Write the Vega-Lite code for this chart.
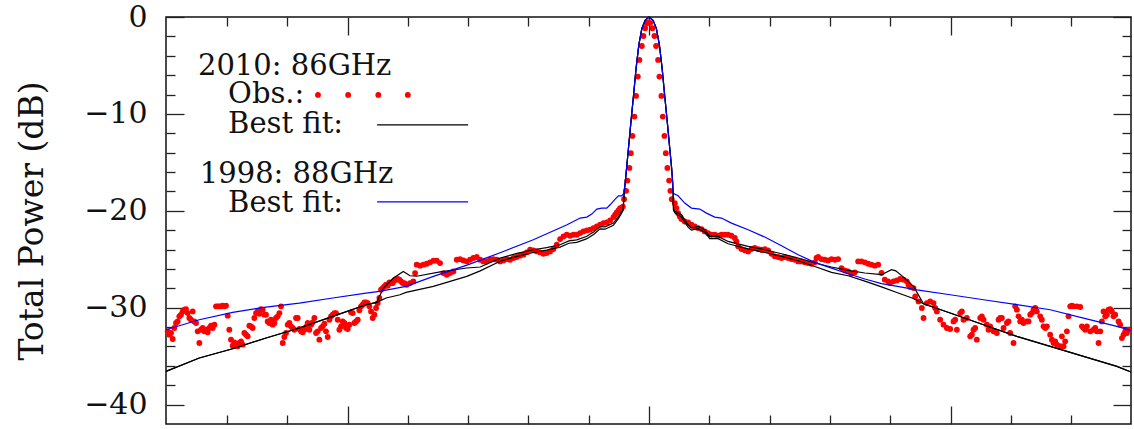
{
  "$schema": "https://vega.github.io/schema/vega-lite/v6.json",
  "width": 965,
  "height": 407,
  "autosize": {"type": "none"},
  "padding": {"left": 166, "top": 17, "right": 3, "bottom": 5},
  "background": "white",
  "config": {"view": {"stroke": "#111111", "strokeWidth": 1.5}, "font": "DejaVu Serif"},
  "datasets": {
    "obs": [
      {"a":-79.82,"p":-32.44},{"a":-79.55,"p":-32.78},{"a":-79.27,"p":-32.61},{"a":-78.99,"p":-33.23},{"a":-78.72,"p":-32.09},{"a":-78.44,"p":-31.58},{"a":-78.17,"p":-31.41},{"a":-77.89,"p":-30.89},{"a":-77.61,"p":-30.72},{"a":-77.34,"p":-30.38},{"a":-77.06,"p":-30.2},{"a":-76.78,"p":-30.14},{"a":-76.51,"p":-30.55},{"a":-76.23,"p":-31.06},{"a":-75.95,"p":-31.24},{"a":-75.68,"p":-30.38},{"a":-75.4,"p":-31.41},{"a":-75.12,"p":-31.58},{"a":-74.85,"p":-32.44},{"a":-74.57,"p":-33.64},{"a":-74.3,"p":-32.27},{"a":-74.02,"p":-32.09},{"a":-73.74,"p":-32.44},{"a":-73.47,"p":-32.27},{"a":-73.19,"p":-32.54},{"a":-72.91,"p":-32.09},{"a":-72.64,"p":-31.85},{"a":-72.36,"p":-32.09},{"a":-72.08,"p":-31.75},{"a":-71.81,"p":-29.86},{"a":-71.53,"p":-29.86},{"a":-71.26,"p":-29.86},{"a":-70.98,"p":-29.86},{"a":-70.7,"p":-29.79},{"a":-70.43,"p":-29.86},{"a":-70.15,"p":-29.79},{"a":-69.87,"p":-30.82},{"a":-69.6,"p":-32.27},{"a":-69.32,"p":-33.3},{"a":-69.04,"p":-33.92},{"a":-68.77,"p":-33.57},{"a":-68.49,"p":-33.81},{"a":-68.21,"p":-33.98},{"a":-67.94,"p":-33.64},{"a":-67.66,"p":-33.47},{"a":-67.39,"p":-33.81},{"a":-67.11,"p":-32.61},{"a":-66.83,"p":-32.78},{"a":-66.56,"p":-32.95},{"a":-66.28,"p":-31.85},{"a":-66.0,"p":-31.92},{"a":-65.73,"p":-32.09},{"a":-65.45,"p":-31.06},{"a":-65.17,"p":-30.55},{"a":-64.9,"p":-30.38},{"a":-64.62,"p":-30.62},{"a":-64.34,"p":-30.14},{"a":-64.07,"p":-30.2},{"a":-63.79,"p":-30.72},{"a":-63.52,"p":-30.72},{"a":-63.24,"p":-31.41},{"a":-62.96,"p":-31.58},{"a":-62.69,"p":-31.24},{"a":-62.41,"p":-31.75},{"a":-62.13,"p":-31.58},{"a":-61.86,"p":-31.06},{"a":-61.58,"p":-30.89},{"a":-61.3,"p":-30.55},{"a":-61.03,"p":-29.86},{"a":-60.75,"p":-33.64},{"a":-60.48,"p":-33.02},{"a":-60.2,"p":-32.61},{"a":-59.92,"p":-31.75},{"a":-59.65,"p":-31.58},{"a":-59.37,"p":-31.92},{"a":-59.09,"p":-32.09},{"a":-58.82,"p":-32.27},{"a":-58.54,"p":-31.06},{"a":-58.26,"p":-31.06},{"a":-57.99,"p":-32.2},{"a":-57.71,"p":-32.44},{"a":-57.44,"p":-32.54},{"a":-57.16,"p":-32.27},{"a":-56.88,"p":-31.99},{"a":-56.61,"p":-31.58},{"a":-56.33,"p":-32.27},{"a":-56.05,"p":-31.75},{"a":-55.78,"p":-31.51},{"a":-55.5,"p":-31.06},{"a":-55.22,"p":-32.61},{"a":-54.95,"p":-32.44},{"a":-54.67,"p":-33.3},{"a":-54.39,"p":-32.09},{"a":-54.12,"p":-31.92},{"a":-53.84,"p":-31.65},{"a":-53.57,"p":-32.44},{"a":-53.29,"p":-33.02},{"a":-53.01,"p":-31.24},{"a":-52.74,"p":-30.89},{"a":-52.46,"p":-30.72},{"a":-52.18,"p":-30.55},{"a":-51.91,"p":-30.55},{"a":-51.63,"p":-31.24},{"a":-51.35,"p":-32.27},{"a":-51.08,"p":-31.92},{"a":-50.8,"p":-31.41},{"a":-50.53,"p":-31.58},{"a":-50.25,"p":-32.09},{"a":-49.97,"p":-32.2},{"a":-49.7,"p":-31.75},{"a":-49.42,"p":-30.48},{"a":-49.14,"p":-30.55},{"a":-48.87,"p":-31.58},{"a":-48.59,"p":-31.41},{"a":-48.31,"p":-31.24},{"a":-48.04,"p":-30.27},{"a":-47.76,"p":-29.86},{"a":-47.49,"p":-29.69},{"a":-47.21,"p":-29.45},{"a":-46.93,"p":-29.45},{"a":-46.66,"p":-29.52},{"a":-46.38,"p":-29.86},{"a":-46.1,"p":-30.38},{"a":-45.83,"p":-31.06},{"a":-45.55,"p":-30.72},{"a":-45.27,"p":-30.03},{"a":-45.0,"p":-29.52},{"a":-44.72,"p":-29.0},{"a":-44.45,"p":-28.14},{"a":-44.17,"p":-27.97},{"a":-43.89,"p":-27.8},{"a":-43.62,"p":-27.63},{"a":-43.34,"p":-27.73},{"a":-43.06,"p":-27.39},{"a":-42.79,"p":-27.46},{"a":-42.51,"p":-27.46},{"a":-42.23,"p":-27.18},{"a":-41.96,"p":-27.11},{"a":-41.68,"p":-27.04},{"a":-41.4,"p":-27.11},{"a":-41.13,"p":-27.28},{"a":-40.85,"p":-27.46},{"a":-40.57,"p":-27.46},{"a":-40.18,"p":-27.63},{"a":-39.64,"p":-27.46},{"a":-39.09,"p":-27.29},{"a":-38.8,"p":-26.43},
      {"a":-38.53,"p":-25.56},{"a":-37.97,"p":-25.66},{"a":-37.42,"p":-25.56},{"a":-36.87,"p":-25.46},{"a":-36.32,"p":-25.32},{"a":-35.76,"p":-25.15},{"a":-35.21,"p":-25.15},{"a":-34.66,"p":-25.39},{"a":-34.1,"p":-26.43},{"a":-33.55,"p":-26.6},{"a":-33.0,"p":-26.43},{"a":-32.45,"p":-26.26},{"a":-31.89,"p":-25.05},{"a":-31.34,"p":-24.99},{"a":-30.79,"p":-25.12},{"a":-30.23,"p":-25.22},{"a":-29.68,"p":-25.05},{"a":-29.13,"p":-24.87},{"a":-28.58,"p":-24.77},{"a":-28.02,"p":-25.05},{"a":-27.47,"p":-25.22},{"a":-26.92,"p":-25.22},{"a":-26.36,"p":-25.05},{"a":-25.81,"p":-24.98},{"a":-25.26,"p":-25.05},{"a":-24.71,"p":-25.22},{"a":-24.15,"p":-25.12},{"a":-23.6,"p":-24.98},{"a":-23.05,"p":-25.05},{"a":-22.49,"p":-24.87},{"a":-21.94,"p":-24.77},{"a":-21.39,"p":-24.63},{"a":-20.84,"p":-24.53},{"a":-20.28,"p":-24.29},{"a":-19.73,"p":-24.02},{"a":-19.18,"p":-24.08},{"a":-18.62,"p":-24.19},{"a":-18.07,"p":-24.29},{"a":-17.52,"p":-24.43},{"a":-16.97,"p":-24.36},{"a":-16.41,"p":-24.19},{"a":-15.86,"p":-23.95},{"a":-15.31,"p":-23.5},{"a":-14.76,"p":-22.92},{"a":-14.2,"p":-22.64},{"a":-13.65,"p":-22.47},{"a":-13.1,"p":-22.57},{"a":-12.54,"p":-22.47},{"a":-11.99,"p":-22.47},{"a":-11.44,"p":-22.3},{"a":-10.89,"p":-22.13},{"a":-10.33,"p":-22.02},{"a":-9.78,"p":-21.95},{"a":-9.23,"p":-21.78},{"a":-8.67,"p":-21.61},{"a":-8.12,"p":-21.44},{"a":-7.57,"p":-21.27},{"a":-7.02,"p":-21.2},{"a":-6.46,"p":-20.99},{"a":-5.91,"p":-20.65},{"a":-5.63,"p":-20.41},{"a":-5.36,"p":-20.17},{"a":-5.08,"p":-19.96},{"a":-4.81,"p":-19.72},{"a":-4.36,"p":-19.56},
      {"a":-4.15,"p":-18.8},{"a":-3.81,"p":-17.94},{"a":-3.6,"p":-16.88},{"a":-3.27,"p":-15.57},{"a":-3.03,"p":-14.05},{"a":-2.77,"p":-12.27},{"a":-2.44,"p":-10.28},{"a":-2.16,"p":-8.14},{"a":-1.87,"p":-6.15},{"a":-1.61,"p":-4.43},{"a":-1.21,"p":-2.99},{"a":-0.95,"p":-1.96},{"a":-0.66,"p":-1.16},{"a":-0.38,"p":-0.65},{"a":-0.11,"p":-0.55},{"a":0.17,"p":-0.6},{"a":0.55,"p":-1.16},{"a":0.88,"p":-1.96},{"a":1.16,"p":-2.99},{"a":1.49,"p":-4.43},{"a":1.71,"p":-6.15},{"a":2.04,"p":-8.14},{"a":2.27,"p":-10.28},{"a":2.54,"p":-12.27},{"a":2.77,"p":-14.05},{"a":3.03,"p":-15.57},{"a":3.32,"p":-16.88},{"a":3.53,"p":-17.94},{"a":3.76,"p":-18.8},
      {"a":4.26,"p":-19.21},{"a":4.53,"p":-19.72},{"a":4.81,"p":-20.24},{"a":5.09,"p":-20.58},{"a":5.36,"p":-20.85},{"a":5.91,"p":-21.1},{"a":6.47,"p":-21.2},{"a":7.02,"p":-21.44},{"a":7.57,"p":-21.61},{"a":8.13,"p":-21.78},{"a":8.68,"p":-21.89},{"a":9.23,"p":-22.13},{"a":9.78,"p":-22.3},{"a":10.34,"p":-22.47},{"a":10.89,"p":-22.47},{"a":11.44,"p":-22.57},{"a":11.99,"p":-22.47},{"a":12.55,"p":-22.47},{"a":13.1,"p":-22.47},{"a":13.65,"p":-22.57},{"a":14.21,"p":-22.81},{"a":14.48,"p":-23.16},{"a":14.76,"p":-23.67},{"a":15.31,"p":-23.95},{"a":15.87,"p":-24.08},{"a":16.42,"p":-24.19},{"a":16.97,"p":-23.95},{"a":17.52,"p":-23.84},{"a":18.08,"p":-23.95},{"a":18.63,"p":-24.02},{"a":19.18,"p":-23.95},{"a":19.73,"p":-24.08},{"a":20.29,"p":-24.43},{"a":20.84,"p":-24.7},{"a":21.39,"p":-24.77},{"a":21.95,"p":-24.87},{"a":22.5,"p":-24.77},{"a":23.05,"p":-24.87},{"a":23.6,"p":-24.98},{"a":24.16,"p":-25.05},{"a":24.71,"p":-25.22},{"a":25.26,"p":-25.22},{"a":25.82,"p":-25.32},{"a":26.37,"p":-25.39},{"a":26.92,"p":-25.46},{"a":27.47,"p":-25.32},{"a":27.75,"p":-24.87},{"a":28.03,"p":-24.77},{"a":28.58,"p":-24.98},{"a":29.13,"p":-25.05},{"a":29.69,"p":-25.12},{"a":30.24,"p":-24.98},{"a":30.79,"p":-25.05},{"a":31.34,"p":-24.98},{"a":31.9,"p":-25.91},{"a":32.45,"p":-26.15},{"a":33.0,"p":-26.25},{"a":33.55,"p":-26.49},{"a":34.11,"p":-26.35},{"a":34.66,"p":-25.22},{"a":35.21,"p":-25.22},{"a":35.77,"p":-25.32},{"a":36.32,"p":-25.46},{"a":36.87,"p":-25.56},{"a":37.42,"p":-25.66},{"a":37.98,"p":-25.56},{"a":38.53,"p":-26.42},{"a":39.08,"p":-27.11},{"a":39.64,"p":-27.28},
      {"a":39.97,"p":-27.46},{"a":40.52,"p":-27.28},{"a":41.08,"p":-27.18},{"a":41.63,"p":-27.04},{"a":42.18,"p":-27.11},{"a":42.73,"p":-27.28},{"a":43.01,"p":-27.63},{"a":43.29,"p":-27.87},{"a":43.84,"p":-27.97},{"a":44.12,"p":-28.83},{"a":44.67,"p":-29.35},{"a":45.22,"p":-30.03},{"a":45.5,"p":-31.06},{"a":46.05,"p":-29.52},{"a":46.6,"p":-29.35},{"a":47.16,"p":-29.52},{"a":47.43,"p":-30.03},{"a":47.71,"p":-30.38},{"a":48.26,"p":-31.24},{"a":48.81,"p":-31.75},{"a":49.37,"p":-32.09},{"a":49.92,"p":-32.2},{"a":50.47,"p":-31.41},{"a":50.75,"p":-31.24},{"a":51.03,"p":-32.27},{"a":51.58,"p":-30.55},{"a":51.86,"p":-30.38},{"a":52.13,"p":-31.24},{"a":52.68,"p":-31.06},{"a":53.24,"p":-32.95},{"a":53.51,"p":-32.78},{"a":53.79,"p":-32.27},{"a":54.07,"p":-32.09},{"a":54.34,"p":-33.3},{"a":54.9,"p":-31.06},{"a":55.17,"p":-30.89},{"a":55.45,"p":-31.24},{"a":56.0,"p":-31.75},{"a":56.28,"p":-32.27},{"a":56.55,"p":-31.92},{"a":57.11,"p":-32.44},{"a":57.66,"p":-32.61},{"a":57.94,"p":-31.24},{"a":58.21,"p":-31.06},{"a":58.49,"p":-31.06},{"a":58.77,"p":-32.09},{"a":59.32,"p":-31.58},{"a":59.59,"p":-31.41},{"a":59.87,"p":-32.61},{"a":60.42,"p":-33.64},{"a":60.7,"p":-29.86},{"a":60.98,"p":-30.2},{"a":61.25,"p":-30.89},{"a":61.53,"p":-31.41},{"a":61.81,"p":-31.24},{"a":62.08,"p":-31.58},{"a":62.63,"p":-31.41},{"a":62.91,"p":-31.41},{"a":63.19,"p":-30.72},{"a":63.46,"p":-30.55},{"a":63.74,"p":-30.2},{"a":64.02,"p":-30.03},{"a":64.29,"p":-30.38},{"a":64.85,"p":-30.89},{"a":65.12,"p":-31.24},{"a":65.4,"p":-31.92},{"a":65.68,"p":-32.09},{"a":65.95,"p":-31.92},{"a":66.5,"p":-32.78},{"a":66.78,"p":-33.3},{"a":67.06,"p":-33.64},{"a":67.33,"p":-33.47},{"a":67.61,"p":-33.81},{"a":68.16,"p":-33.98},{"a":68.44,"p":-32.95},{"a":68.72,"p":-33.98},{"a":68.99,"p":-33.47},{"a":69.27,"p":-32.44},{"a":69.54,"p":-30.89},{"a":69.82,"p":-29.86},{"a":70.1,"p":-29.79},{"a":70.37,"p":-29.86},{"a":70.93,"p":-29.86},{"a":71.48,"p":-29.93},{"a":71.76,"p":-31.92},{"a":72.03,"p":-32.09},{"a":72.31,"p":-32.27},{"a":72.59,"p":-31.92},{"a":73.14,"p":-32.44},{"a":73.69,"p":-32.27},{"a":73.97,"p":-32.09},{"a":74.24,"p":-32.44},{"a":74.52,"p":-33.64},{"a":74.8,"p":-32.44},{"a":75.07,"p":-31.41},{"a":75.35,"p":-30.38},{"a":75.63,"p":-30.89},{"a":75.9,"p":-30.72},{"a":76.18,"p":-30.2},{"a":76.46,"p":-30.14},{"a":76.73,"p":-30.38},{"a":77.01,"p":-30.89},{"a":77.28,"p":-30.72},{"a":77.84,"p":-31.41},{"a":78.11,"p":-31.75},{"a":78.39,"p":-33.13},{"a":78.67,"p":-32.78},{"a":78.94,"p":-32.44},{"a":79.22,"p":-32.61},{"a":79.5,"p":-32.27}
    ],
    "fitA": [
      {"a":-80.1,"p":-36.57},{"a":-74.58,"p":-35.19},{"a":-69.04,"p":-34.23},{"a":-63.5,"p":-33.12},{"a":-57.99,"p":-32.09},{"a":-52.45,"p":-30.9},{"a":-46.93,"p":-29.69},{"a":-45.16,"p":-29.45},{"a":-44.06,"p":-27.97},{"a":-42.4,"p":-26.94},{"a":-40.75,"p":-26.26},{"a":-39.64,"p":-26.7},{"a":-38.53,"p":-26.75},{"a":-34.66,"p":-26.3},{"a":-30.23,"p":-25.9},{"a":-28.0,"p":-25.8},{"a":-24.7,"p":-24.88},{"a":-21.9,"p":-24.4},{"a":-19.2,"p":-24.02},{"a":-17.0,"p":-23.8},{"a":-14.76,"p":-23.5},{"a":-13.3,"p":-23.1},{"a":-12.0,"p":-23.0},{"a":-10.4,"p":-22.65},{"a":-9.2,"p":-22.2},{"a":-8.13,"p":-21.62},{"a":-7.3,"p":-21.65},{"a":-5.92,"p":-21.27},{"a":-5.1,"p":-20.6},{"a":-4.6,"p":-20.1},{"a":-4.3,"p":-19.9},
      {"a":-4.15,"p":-18.3},{"a":-3.95,"p":-17.0},{"a":-3.72,"p":-15.5},{"a":-3.43,"p":-13.6},{"a":-3.04,"p":-11.0},{"a":-2.6,"p":-8.2},{"a":-2.16,"p":-5.3},{"a":-1.71,"p":-2.9},{"a":-1.21,"p":-1.2},{"a":-0.66,"p":-0.35},{"a":0,"p":0},{"a":0.66,"p":-0.35},{"a":1.21,"p":-1.2},{"a":1.71,"p":-2.9},{"a":2.16,"p":-5.3},{"a":2.6,"p":-8.2},{"a":3.04,"p":-11.0},{"a":3.43,"p":-13.6},{"a":3.72,"p":-15.5},{"a":3.9,"p":-17.0},{"a":3.98,"p":-18.3},{"a":4.05,"p":-19.89},
      {"a":4.26,"p":-20.06},{"a":5.36,"p":-20.41},{"a":6.47,"p":-21.44},{"a":7.02,"p":-21.78},{"a":8.13,"p":-21.61},{"a":9.23,"p":-21.95},{"a":10.06,"p":-22.64},{"a":11.44,"p":-22.64},{"a":13.1,"p":-23.16},{"a":14.21,"p":-23.33},{"a":16.42,"p":-23.67},{"a":19.18,"p":-24.02},{"a":21.95,"p":-24.43},{"a":24.71,"p":-24.87},{"a":27.47,"p":-25.39},{"a":30.24,"p":-25.8},{"a":33.0,"p":-26.15},{"a":35.77,"p":-26.42},{"a":38.53,"p":-26.59},{"a":40.19,"p":-26.08},{"a":40.9,"p":-26.2},{"a":42.18,"p":-26.84},{"a":43.84,"p":-27.8},{"a":45.5,"p":-29.59},{"a":49.92,"p":-30.55},{"a":55.44,"p":-31.76},{"a":60.97,"p":-32.96},{"a":66.5,"p":-33.99},{"a":72.03,"p":-35.02},{"a":77.56,"p":-36.05},{"a":79.9,"p":-36.63}
    ],
    "fitB": [
      {"a":-80.1,"p":-36.57},{"a":-74.58,"p":-35.19},{"a":-69.04,"p":-34.23},{"a":-63.5,"p":-33.12},{"a":-57.99,"p":-32.09},{"a":-52.45,"p":-30.9},{"a":-46.93,"p":-29.69},{"a":-45.16,"p":-29.45},{"a":-43.6,"p":-29.0},{"a":-41.3,"p":-28.66},{"a":-40.3,"p":-28.42},{"a":-35.77,"p":-27.8},{"a":-30.23,"p":-26.77},{"a":-28.0,"p":-26.2},{"a":-24.7,"p":-25.2},{"a":-21.9,"p":-24.7},{"a":-19.2,"p":-24.3},{"a":-17.0,"p":-24.05},{"a":-14.76,"p":-23.75},{"a":-13.3,"p":-23.35},{"a":-12.0,"p":-23.25},{"a":-10.4,"p":-22.9},{"a":-9.2,"p":-22.45},{"a":-8.13,"p":-21.86},{"a":-7.3,"p":-21.9},{"a":-5.92,"p":-21.5},{"a":-5.1,"p":-20.8},{"a":-4.6,"p":-20.3},{"a":-4.3,"p":-19.95},
      {"a":-4.15,"p":-18.3},{"a":-3.95,"p":-17.0},{"a":-3.72,"p":-15.5},{"a":-3.43,"p":-13.6},{"a":-3.04,"p":-11.0},{"a":-2.6,"p":-8.2},{"a":-2.16,"p":-5.3},{"a":-1.71,"p":-2.9},{"a":-1.21,"p":-1.2},{"a":-0.66,"p":-0.35},{"a":0,"p":0},{"a":0.66,"p":-0.35},{"a":1.21,"p":-1.2},{"a":1.71,"p":-2.9},{"a":2.16,"p":-5.3},{"a":2.6,"p":-8.2},{"a":3.04,"p":-11.0},{"a":3.43,"p":-13.6},{"a":3.72,"p":-15.5},{"a":3.9,"p":-17.0},{"a":3.98,"p":-18.3},{"a":4.05,"p":-19.95},
      {"a":4.26,"p":-20.2},{"a":5.36,"p":-20.65},{"a":6.47,"p":-21.68},{"a":7.02,"p":-22.0},{"a":8.13,"p":-21.85},{"a":9.23,"p":-22.2},{"a":10.06,"p":-22.88},{"a":11.44,"p":-22.88},{"a":13.1,"p":-23.4},{"a":14.21,"p":-23.58},{"a":16.42,"p":-23.92},{"a":19.18,"p":-24.3},{"a":21.95,"p":-24.7},{"a":24.71,"p":-25.15},{"a":27.47,"p":-25.75},{"a":30.24,"p":-26.35},{"a":33.0,"p":-26.7},{"a":35.77,"p":-27.25},{"a":38.53,"p":-27.85},{"a":41.18,"p":-28.45},{"a":43.6,"p":-29.0},{"a":45.5,"p":-29.59},{"a":49.92,"p":-30.55},{"a":55.44,"p":-31.76},{"a":60.97,"p":-32.96},{"a":66.5,"p":-33.99},{"a":72.03,"p":-35.02},{"a":77.56,"p":-36.05},{"a":79.9,"p":-36.63}
    ],
    "fit98": [
      {"a":-80.1,"p":-32.27},{"a":-74.58,"p":-31.24},{"a":-69.04,"p":-30.48},{"a":-63.5,"p":-29.93},{"a":-57.99,"p":-29.52},{"a":-52.45,"p":-29.0},{"a":-46.93,"p":-28.49},{"a":-44.72,"p":-28.32},{"a":-40.3,"p":-27.8},{"a":-35.77,"p":-26.77},{"a":-30.2,"p":-25.6},{"a":-24.7,"p":-24.33},{"a":-19.2,"p":-22.99},{"a":-13.6,"p":-21.44},{"a":-11.44,"p":-20.75},{"a":-10.33,"p":-20.65},{"a":-9.5,"p":-20.34},{"a":-8.67,"p":-19.82},{"a":-7.85,"p":-19.72},{"a":-7.02,"p":-19.72},{"a":-6.46,"p":-19.38},{"a":-5.63,"p":-18.79},{"a":-5.08,"p":-18.45},{"a":-4.53,"p":-18.45},{"a":-4.2,"p":-18.2},
      {"a":-3.95,"p":-17.0},{"a":-3.72,"p":-15.5},{"a":-3.43,"p":-13.6},{"a":-3.04,"p":-11.0},{"a":-2.6,"p":-8.2},{"a":-2.16,"p":-5.3},{"a":-1.71,"p":-2.9},{"a":-1.21,"p":-1.2},{"a":-0.66,"p":-0.35},{"a":0,"p":0},{"a":0.66,"p":-0.35},{"a":1.21,"p":-1.2},{"a":1.71,"p":-2.9},{"a":2.16,"p":-5.3},{"a":2.6,"p":-8.2},{"a":3.04,"p":-11.0},{"a":3.43,"p":-13.6},{"a":3.72,"p":-15.5},{"a":3.9,"p":-17.0},
      {"a":4.0,"p":-18.2},{"a":4.81,"p":-18.45},{"a":5.91,"p":-19.2},{"a":7.02,"p":-19.72},{"a":8.4,"p":-19.82},{"a":9.51,"p":-20.24},{"a":10.89,"p":-20.65},{"a":11.99,"p":-20.75},{"a":13.65,"p":-21.27},{"a":16.42,"p":-21.95},{"a":19.18,"p":-22.71},{"a":21.95,"p":-23.6},{"a":24.71,"p":-24.53},{"a":27.47,"p":-25.32},{"a":30.24,"p":-25.91},{"a":33.0,"p":-26.49},{"a":35.77,"p":-27.04},{"a":38.53,"p":-27.52},{"a":41.18,"p":-27.8},{"a":44.39,"p":-28.15},{"a":49.92,"p":-28.66},{"a":55.45,"p":-29.18},{"a":60.97,"p":-29.69},{"a":66.5,"p":-30.21},{"a":72.03,"p":-31.07},{"a":77.56,"p":-31.93},{"a":79.9,"p":-32.34}
    ],
    "legText": [
      {"t":"2010: 86GHz","a":-74.8,"p":-5.98},
      {"t":"Obs.:","a":-69.8,"p":-8.87},
      {"t":"Best fit:","a":-69.8,"p":-11.96},
      {"t":"1998: 88GHz","a":-74.5,"p":-17.1},
      {"t":"Best fit:","a":-69.8,"p":-20.1}
    ],
    "legDots": [
      {"a":-54.9,"p":-8.04},{"a":-49.9,"p":-8.04},{"a":-44.9,"p":-8.04},{"a":-40.0,"p":-8.04}
    ]
  },
  "resolve": {"axis": {"x": "independent", "y": "independent"}},
  "layer": [
    {
      "data": {"name": "obs"},
      "mark": {"type": "circle", "color": "#ff0000", "size": 34, "opacity": 1},
      "encoding": {
        "x": {"field": "a", "type": "quantitative", "scale": {"domain": [-80.1, 79.9], "nice": false, "zero": false},
          "axis": {"orient": "bottom", "values": [-70,-60,-50,-40,-30,-20,-10,0,10,20,30,40,50,60,70], "labels": false, "domain": false, "grid": false, "title": null,
            "tickSize": {"condition": {"test": "datum.value % 50 === 0", "value": -18}, "value": -9}, "tickColor": "#222222", "tickWidth": 1.3}},
        "y": {"field": "p", "type": "quantitative", "scale": {"domain": [-42, 0], "nice": false, "zero": false},
          "axis": {"orient": "left", "values": [0,-2,-4,-6,-8,-10,-12,-14,-16,-18,-20,-22,-24,-26,-28,-30,-32,-34,-36,-38,-40],
            "domain": false, "grid": false, "title": "Total Power (dB)", "titleFont": "DejaVu Serif", "titleFontSize": 33, "titleFontWeight": "normal", "titleColor": "#111111", "titlePadding": 34,
            "labelFont": "DejaVu Serif", "labelFontSize": 30, "labelColor": "#111111", "labelPadding": 37, "labelOverlap": false, "labelFlush": false,
            "labelExpr": "datum.value % 10 === 0 ? datum.label : ''",
            "tickSize": {"condition": {"test": "datum.value % 10 === 0", "value": -18}, "value": -9}, "tickColor": "#222222", "tickWidth": 1.3}}
      }
    },
    {
      "data": {"name": "fitB"},
      "mark": {"type": "line", "color": "#000000", "strokeWidth": 1.2},
      "encoding": {
        "x": {"field": "a", "type": "quantitative", "scale": {"domain": [-80.1, 79.9], "nice": false, "zero": false},
          "axis": {"orient": "top", "values": [-70,-60,-50,-40,-30,-20,-10,0,10,20,30,40,50,60,70], "labels": false, "domain": false, "grid": false, "title": null,
            "tickSize": {"condition": {"test": "datum.value % 50 === 0", "value": -18}, "value": -9}, "tickColor": "#222222", "tickWidth": 1.3}},
        "y": {"field": "p", "type": "quantitative", "scale": {"domain": [-42, 0], "nice": false, "zero": false},
          "axis": {"orient": "right", "values": [0,-2,-4,-6,-8,-10,-12,-14,-16,-18,-20,-22,-24,-26,-28,-30,-32,-34,-36,-38,-40], "labels": false, "domain": false, "grid": false, "title": null,
            "tickSize": {"condition": {"test": "datum.value % 10 === 0", "value": -18}, "value": -9}, "tickColor": "#222222", "tickWidth": 1.3}}
      }
    },
    {
      "data": {"name": "fitA"},
      "mark": {"type": "line", "color": "#000000", "strokeWidth": 1.2},
      "encoding": {
        "x": {"field": "a", "type": "quantitative", "scale": {"domain": [-80.1, 79.9], "nice": false, "zero": false}, "axis": null},
        "y": {"field": "p", "type": "quantitative", "scale": {"domain": [-42, 0], "nice": false, "zero": false}, "axis": null}
      }
    },
    {
      "data": {"name": "fit98"},
      "mark": {"type": "line", "color": "#0000ff", "strokeWidth": 1.2},
      "encoding": {
        "x": {"field": "a", "type": "quantitative", "scale": {"domain": [-80.1, 79.9], "nice": false, "zero": false}, "axis": null},
        "y": {"field": "p", "type": "quantitative", "scale": {"domain": [-42, 0], "nice": false, "zero": false}, "axis": null}
      }
    },
    {
      "data": {"name": "legText"},
      "mark": {"type": "text", "align": "left", "baseline": "alphabetic", "font": "DejaVu Serif", "fontSize": 29, "color": "#111111"},
      "encoding": {
        "x": {"field": "a", "type": "quantitative", "scale": {"domain": [-80.1, 79.9], "nice": false, "zero": false}, "axis": null},
        "y": {"field": "p", "type": "quantitative", "scale": {"domain": [-42, 0], "nice": false, "zero": false}, "axis": null},
        "text": {"field": "t"}
      }
    },
    {
      "data": {"name": "legDots"},
      "mark": {"type": "circle", "color": "#ff0000", "size": 34, "opacity": 1},
      "encoding": {
        "x": {"field": "a", "type": "quantitative", "scale": {"domain": [-80.1, 79.9], "nice": false, "zero": false}, "axis": null},
        "y": {"field": "p", "type": "quantitative", "scale": {"domain": [-42, 0], "nice": false, "zero": false}, "axis": null}
      }
    },
    {
      "data": {"values": [{"a": -45.1, "a2": -30.0, "p": -11.13}]},
      "mark": {"type": "rule", "color": "#000000", "strokeWidth": 1.2},
      "encoding": {
        "x": {"field": "a", "type": "quantitative", "scale": {"domain": [-80.1, 79.9], "nice": false, "zero": false}, "axis": null},
        "x2": {"field": "a2"},
        "y": {"field": "p", "type": "quantitative", "scale": {"domain": [-42, 0], "nice": false, "zero": false}, "axis": null}
      }
    },
    {
      "data": {"values": [{"a": -45.1, "a2": -30.0, "p": -19.07}]},
      "mark": {"type": "rule", "color": "#0000ff", "strokeWidth": 1.2},
      "encoding": {
        "x": {"field": "a", "type": "quantitative", "scale": {"domain": [-80.1, 79.9], "nice": false, "zero": false}, "axis": null},
        "x2": {"field": "a2"},
        "y": {"field": "p", "type": "quantitative", "scale": {"domain": [-42, 0], "nice": false, "zero": false}, "axis": null}
      }
    }
  ]
}
